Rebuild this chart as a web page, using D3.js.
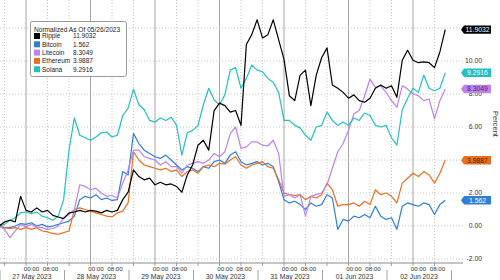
<!DOCTYPE html>
<html><head><meta charset="utf-8">
<script src="https://cdn.jsdelivr.net/npm/d3@7"></script>
<style>html,body{margin:0;padding:0;background:#fff;} svg{display:block;font-family:"Liberation Sans",Arial,sans-serif;}</style>
</head><body><svg id="c" width="500" height="280"></svg>
<script>
// ---- data ----
const seriesNames = ["Ripple","Bitcoin","Litecoin","Ethereum","Solana"];
const lastValues = ["11.9032","1.562","8.3049","3.9887","9.2916"];
const seriesColors = ["#000000","#2f7fd6","#bd82ee","#e8701e","#22c0c0"];
const boxTextColors = ["#ffffff","#ffffff","#4a2a66","#4a1e00","#ffffff"];
const startTime = Date.UTC(2023,4,26,14); // first sample
const stepHours = 2;
const ripple = [0,0.25,0.35,0.25,1.8,0.95,0.85,1.1,0.85,0.95,
 0.65,0.55,0.45,0.8,0.85,0.95,0.85,0.95,0.9,0.8,
 0.95,0.85,0.95,1.6,2.05,3.4,3.0,2.8,2.9,2.5,
 2.65,2.5,2.55,2.4,2.05,3.1,3.7,4.9,5.2,4.6,
 7.0,7.45,7.3,6.9,7.0,6.1,11.0,11.6,12.5,11.4,
 11.6,12.5,11.3,10.1,7.9,7.6,9.15,9.45,7.3,9.15,
 10.2,10.8,8.55,8.35,8.1,7.75,7.95,7.6,7.5,7.75,
 8.35,8.55,8.35,8.5,7.8,10.05,10.65,10.05,9.9,9.95,
 9.9,9.6,10.55,11.9032];
const bitcoin = [0,-0.1,-0.1,0.0,0.15,0.1,0.2,0.0,0.1,-0.05,
 0.0,0.1,0.2,0.3,0.6,1.6,1.8,1.7,1.9,1.6,
 1.7,1.55,1.6,3.3,3.1,5.6,5.0,4.6,4.4,4.2,
 4.1,4.3,4.0,3.7,3.4,3.6,3.5,3.3,3.6,3.5,
 3.9,4.0,3.8,4.3,4.5,3.9,3.7,3.8,3.9,3.7,
 3.8,3.6,2.7,1.6,1.4,1.5,1.3,1.0,1.4,1.2,
 1.3,1.9,1.7,-0.2,0.4,0.3,0.6,0.5,0.7,0.5,
 1.2,0.6,0.4,0.5,-0.2,1.2,1.4,1.3,1.2,1.4,
 1.3,0.7,1.3,1.562];
const litecoin = [0,-0.2,-0.7,-0.3,0.1,-0.05,0.1,-0.05,-0.1,-0.2,
 -0.15,0.0,0.5,0.7,1.0,2.5,2.4,2.2,2.3,2.0,
 1.8,1.85,1.7,2.6,3.4,4.6,4.6,4.2,4.1,4.0,
 3.7,3.9,3.6,3.6,3.2,3.7,3.8,3.9,3.8,4.0,
 4.4,4.2,4.5,5.6,6.0,4.7,4.8,5.1,5.1,4.9,
 4.85,5.2,4.4,1.8,1.9,1.7,1.9,0.6,1.8,1.9,
 2.0,2.5,3.5,4.5,5.0,5.8,6.8,7.0,7.9,8.9,
 8.4,8.5,8.1,7.6,7.2,8.5,8.3,8.0,7.9,7.6,
 7.7,6.5,7.6,8.3049];
const ethereum = [0,-0.1,-0.15,-0.1,-0.2,-0.1,-0.2,-0.1,-0.3,-0.35,
 -0.45,-0.5,-0.4,-0.3,1.0,1.1,1.0,0.9,0.8,0.7,
 0.6,0.55,0.8,0.9,1.4,4.5,4.0,3.7,3.6,3.5,
 3.4,3.5,3.3,3.4,3.0,3.3,3.4,3.2,3.6,3.7,
 3.6,3.8,3.75,4.0,4.2,3.7,3.5,3.7,3.8,3.9,
 3.6,3.5,2.8,2.0,1.9,1.85,1.9,1.6,1.8,1.7,
 1.9,2.6,2.2,1.2,1.3,1.3,1.4,1.2,1.5,1.3,
 2.2,1.9,2.0,1.8,1.4,2.6,2.9,3.2,3.0,3.3,
 3.1,2.6,3.2,3.9887];
const solana = [0,0.1,0.35,0.5,0.8,0.85,0.75,0.85,0.6,0.5,
 0.35,0.6,1.6,4.6,6.55,5.5,5.35,5.2,5.4,5.65,
 5.7,5.4,5.5,6.7,7.15,8.3,7.35,7.05,6.4,6.3,
 6.55,6.4,6.6,6.1,4.3,5.65,5.8,6.1,7.35,8.35,
 7.65,7.35,7.95,9.45,9.6,8.35,8.95,9.75,9.45,9.35,
 8.95,8.7,8.1,6.4,6.4,6.1,5.95,5.5,5.2,6.0,
 6.1,6.9,6.4,6.1,6.3,6.1,6.55,6.4,6.85,6.7,
 6.1,6.0,6.1,5.35,4.9,7.05,7.75,8.35,8.1,9.15,
 8.35,8.2,8.35,9.2916];
const seriesValues = [ripple, bitcoin, litecoin, ethereum, solana];
const dayLabels = ["27 May 2023","28 May 2023","29 May 2023","30 May 2023","31 May 2023","01 Jun 2023","02 Jun 2023"];
const hourLabels = ["00:00","08:00"];
const yTicks = [-2,0,2,4,6,8,10,12];
const yTickLabels = [-2,0,2,6,8,10];   // 4.00 and 12.00 are hidden behind value boxes in the reference
const legendTitle = "Normalized As Of 05/26/2023";
const yTitle = "Percent";

// ---- layout ----
const W = 500, H = 280;
const plot = {left:0, right:463, top:0, bottom:263};
const svg = d3.select("#c");
const DAY = 86400000, HOUR = 3600000;
const dayStarts = dayLabels.map((d,i)=> new Date(Date.UTC(2023,4,27) + i*DAY));

const x = d3.scaleUtc().domain([dayStarts[0], dayStarts[6]]).range([26,413]);
const y = d3.scaleLinear().domain([-2.24,13.7]).range([plot.bottom, plot.top]);

// grid
const g = svg.append("g");
g.selectAll("line.h").data(yTicks).join("line")
  .attr("x1",plot.left).attr("x2",plot.right)
  .attr("y1",d=>y(d)).attr("y2",d=>y(d))
  .attr("stroke","#b8b8b8").attr("stroke-width",0.8).attr("stroke-dasharray","1,2");

const minorTimes = [];
for (let t = Date.UTC(2023,4,26,16); t <= Date.UTC(2023,5,2,8); t += 8*HOUR) {
  if (new Date(t).getUTCHours() !== 0) minorTimes.push(new Date(t));
}
g.selectAll("line.vm").data(minorTimes).join("line")
  .attr("x1",d=>x(d)).attr("x2",d=>x(d)).attr("y1",plot.top).attr("y2",plot.bottom)
  .attr("stroke","#b8b8b8").attr("stroke-width",0.8).attr("stroke-dasharray","1,2");
g.selectAll("line.vd").data(dayStarts).join("line")
  .attr("x1",d=>x(d)).attr("x2",d=>x(d)).attr("y1",plot.top).attr("y2",plot.bottom)
  .attr("stroke","#a6a6a6").attr("stroke-width",1);

// bottom axis line + ticks
svg.append("line").attr("x1",plot.left).attr("x2",plot.right)
  .attr("y1",plot.bottom).attr("y2",plot.bottom).attr("stroke","#8a8a8a").attr("stroke-width",1);
svg.selectAll("line.tk").data(minorTimes.concat(dayStarts)).join("line")
  .attr("x1",d=>x(d)).attr("x2",d=>x(d)).attr("y1",plot.bottom).attr("y2",plot.bottom+3)
  .attr("stroke","#8a8a8a").attr("stroke-width",0.8);
svg.selectAll("line.sep").data(dayStarts.concat([new Date(+dayStarts[6]+DAY)])).join("line")
  .attr("x1",d=>x(d)-26).attr("x2",d=>x(d)-26).attr("y1",270).attr("y2",H)
  .attr("stroke","#8a8a8a").attr("stroke-width",0.8);

// x labels
const xl = svg.append("g").attr("font-size",6.2).attr("fill","#333").attr("text-anchor","middle");
dayStarts.forEach((d,i)=>{
  xl.append("text").attr("x",x(d)+5.5).attr("y",271).text(hourLabels[0]);
  xl.append("text").attr("x",x(new Date(+d+8*HOUR))+3).attr("y",271).text(hourLabels[1]);
  xl.append("text").attr("x",x(d)+6).attr("y",278.5).attr("font-size",6.8).text(dayLabels[i]);
});

// lines
svg.append("clipPath").attr("id","clip").append("rect")
  .attr("x",plot.left).attr("y",plot.top).attr("width",plot.right-plot.left).attr("height",plot.bottom-plot.top);
const line = d3.line().x((d,i)=>x(new Date(startTime + i*stepHours*HOUR))).y(d=>y(d));
const drawOrder = [1,3,2,4,0];
const lg = svg.append("g").attr("clip-path","url(#clip)");
drawOrder.forEach(k=>{
  lg.append("path").datum(seriesValues[k]).attr("d",line)
    .attr("fill","none").attr("stroke",seriesColors[k]).attr("stroke-width",1.2)
    .attr("stroke-linejoin","round");
});

// y labels
const yl = svg.append("g").attr("font-size",6.8).attr("fill","#333").attr("text-anchor","end");
yl.selectAll("text").data(yTickLabels).join("text")
  .attr("x",482).attr("y",d=>y(d)).attr("dy","0.35em").text(d=>d.toFixed(2));
svg.append("text").attr("transform",`translate(492.5,${124}) rotate(90)`)
  .attr("text-anchor","middle").attr("font-size",7.5).attr("fill","#333").text(yTitle);

// value boxes
seriesValues.forEach((vals,k)=>{
  const v = +lastValues[k];
  const cy = y(v);
  const bx = svg.append("g");
  bx.append("path").attr("d",`M461,${cy} L464,${cy-4.2} L491,${cy-4.2} L491,${cy+4.2} L464,${cy+4.2} Z`)
    .attr("fill",seriesColors[k]);
  bx.append("text").attr("x",477.5).attr("y",cy).attr("dy","0.35em").attr("text-anchor","middle")
    .attr("font-size",6.8).attr("fill",boxTextColors[k]).text(lastValues[k]);
});

// legend
const L = svg.append("g");
L.append("rect").attr("x",30.5).attr("y",21.5).attr("width",96).attr("height",55).attr("rx",2)
  .attr("fill","#fff").attr("stroke","#9a9a9a").attr("stroke-width",1);
L.append("text").attr("x",34).attr("y",31.5).attr("font-size",6.6).attr("fill","#222").text(legendTitle);
seriesNames.forEach((n,k)=>{
  const cy = 36 + k*8.3;
  L.append("rect").attr("x",34).attr("y",cy-3).attr("width",6).attr("height",6).attr("fill",seriesColors[k]);
  L.append("text").attr("x",42).attr("y",cy+2.4).attr("font-size",6.5).attr("fill","#222").text(n);
  L.append("text").attr("x",73).attr("y",cy+2.4).attr("font-size",6.5).attr("fill","#222").text(lastValues[k]);
});
</script></body></html>
